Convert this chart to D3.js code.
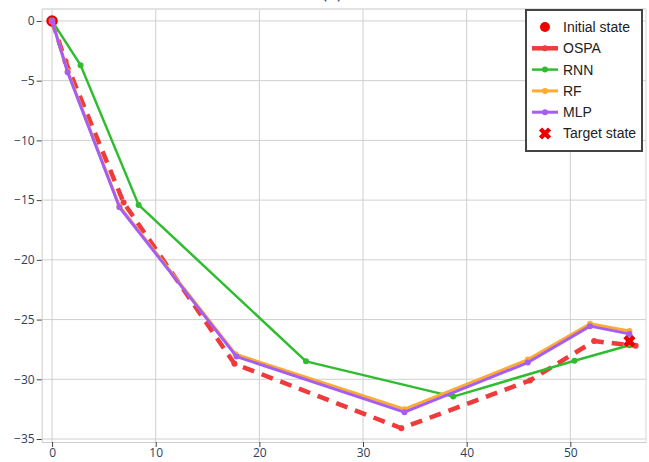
<!DOCTYPE html>
<html><head><meta charset="utf-8">
<script src="https://cdn.jsdelivr.net/npm/d3@7"></script>
<style>body{margin:0;background:#fff}svg{display:block}</style>
</head><body><div id="chart"></div>
<script>
const initialState = [{x: 0, y: 0}];
const targetState = [{x: 55.7, y: -26.8}];
const ospaX = [0, 1.3, 6.9, 17.6, 33.7, 46.1, 52.3, 56.3];
const ospaY = [0, -3.4, -15.2, -28.7, -34.1, -30.1, -26.8, -27.2];
const rnnX = [0, 2.75, 8.35, 24.5, 38.7, 50.4, 55.7];
const rnnY = [0, -3.7, -15.4, -28.5, -31.45, -28.45, -27.15];
const rfX = [0, 1.5, 6.5, 17.7, 34.0, 45.9, 51.9, 55.7];
const rfY = [0, -4.2, -15.5, -27.9, -32.5, -28.35, -25.35, -25.95];
const mlpX = [0, 1.5, 6.5, 17.8, 34.0, 45.9, 51.9, 55.7];
const mlpY = [0, -4.3, -15.6, -28.1, -32.75, -28.6, -25.55, -26.2];
const xTicks = [0, 10, 20, 30, 40, 50];
const yTicks = [0, -5, -10, -15, -20, -25, -30, -35];
const legendLabels = ["Initial state", "OSPA", "RNN", "RF", "MLP", "Target state"];

const W = 649, H = 462;
const L = 41.7, R = 646, T = 9, B = 442;
const svg = d3.select("#chart").append("svg").attr("width", W).attr("height", H);
const x = d3.scaleLinear().domain([-1, 57.3]).range([L, R]);
const y = d3.scaleLinear().domain([1, -35.25]).range([T, B]);

// title (cropped at the top, as in the reference)
svg.append("text").attr("x", 332).attr("y", -1).attr("text-anchor", "middle")
  .attr("font-family", "Open Sans, sans-serif").attr("font-size", 17).attr("fill", "#2a3f5f").text("(a)");

// grid
const g = svg.append("g");
g.selectAll(".vg").data(xTicks).join("line").attr("x1", d => x(d)).attr("x2", d => x(d))
  .attr("y1", T).attr("y2", B).attr("stroke", "#cfcfcf").attr("stroke-width", 1);
g.selectAll(".hg").data(yTicks).join("line").attr("y1", d => y(d)).attr("y2", d => y(d))
  .attr("x1", L).attr("x2", R).attr("stroke", "#cfcfcf").attr("stroke-width", 1);
svg.append("line").attr("x1", L).attr("x2", R).attr("y1", T).attr("y2", T).attr("stroke", "#e2e2e2").attr("stroke-width", 2);
svg.append("line").attr("x1", R).attr("x2", R).attr("y1", T).attr("y2", B).attr("stroke", "#d6d6d6").attr("stroke-width", 1);

// axes
const fmt = d => d < 0 ? "\u2212" + Math.abs(d) : String(d);
const xAxis = svg.append("g").attr("transform", `translate(0,${B})`)
  .call(d3.axisBottom(x).tickValues(xTicks).tickFormat(fmt).tickSize(5).tickSizeOuter(0));
const yAxis = svg.append("g").attr("transform", `translate(${L},0)`)
  .call(d3.axisLeft(y).tickValues(yTicks).tickFormat(fmt).tickSize(5).tickSizeOuter(0));
[xAxis, yAxis].forEach(a => {
  a.select(".domain").attr("stroke", "#cccccc").attr("stroke-width", 1);
  a.selectAll(".tick line").attr("stroke", "#444");
  a.selectAll("text").attr("font-family", "Open Sans, sans-serif").attr("font-size", 12).attr("fill", "#2a3f5f");
});
xAxis.selectAll("text").attr("y", 6).attr("dy", "0.71em");
yAxis.selectAll("text").attr("x", -7);

const zip = (xs, ys) => xs.map((v, i) => ({x: v, y: ys[i]}));
const line = d3.line().x(d => x(d.x)).y(d => y(d.y));

// initial state marker
svg.selectAll(".init").data(initialState).join("circle").attr("cx", d => x(d.x)).attr("cy", d => y(d.y))
  .attr("r", 5).attr("fill", "#ff1a1a").attr("stroke", "#dd0000").attr("stroke-width", 1.5);

const series = [
  {data: zip(ospaX, ospaY), color: "#ee2b2b", width: 4.5, dash: "12,8", r: 3, op: 0.92},
  {data: zip(rnnX, rnnY), color: "#2fbd2f", width: 2.5, dash: null, r: 3, op: 1},
  {data: zip(rfX, rfY), color: "#ffab30", width: 3, dash: null, r: 3, op: 1},
  {data: zip(mlpX, mlpY), color: "#a65ef2", width: 3, dash: null, r: 3, op: 1}
];
series.forEach(s => {
  const gg = svg.append("g").attr("opacity", s.op);
  gg.append("path").datum(s.data).attr("d", line).attr("fill", "none").attr("stroke", s.color)
    .attr("stroke-width", s.width).attr("stroke-dasharray", s.dash).attr("stroke-linejoin", "round");
  gg.selectAll("circle").data(s.data).join("circle").attr("cx", d => x(d.x)).attr("cy", d => y(d.y))
    .attr("r", s.r).attr("fill", s.color);
});

// target state
const cross = d3.symbol().type(d3.symbolX).size(55);
svg.selectAll(".tgt").data(targetState).join("path").attr("d", cross)
  .attr("transform", d => `translate(${x(d.x)},${y(d.y)})`)
  .attr("fill", "none").attr("stroke", "#ee0000").attr("stroke-width", 4.5);

// legend
const lg = svg.append("g");
lg.append("rect").attr("x", 526).attr("y", 10).attr("width", 116).attr("height", 141)
  .attr("fill", "#fff").attr("stroke", "#444").attr("stroke-width", 2);
const rowY = i => 27 + i * 21.3;
legendLabels.forEach((lab, i) => {
  const cy = rowY(i);
  if (i === 0) {
    lg.append("circle").attr("cx", 545).attr("cy", cy).attr("r", 5).attr("fill", "#ee0000");
  } else if (i === 5) {
    lg.append("path").attr("d", cross).attr("transform", `translate(545,${cy})`)
      .attr("fill", "none").attr("stroke", "#ee0000").attr("stroke-width", 4.5);
  } else {
    const s = series[i - 1];
    const sg = lg.append("g").attr("opacity", s.op);
    sg.append("line").attr("x1", 532).attr("x2", 558).attr("y1", cy).attr("y2", cy)
      .attr("stroke", s.color).attr("stroke-width", s.width);
    sg.append("circle").attr("cx", 545).attr("cy", cy).attr("r", 3).attr("fill", s.color);
  }
  lg.append("text").attr("x", 563).attr("y", cy).attr("dy", "0.35em")
    .attr("font-family", "Liberation Sans, Arial, sans-serif").attr("font-size", 14)
    .attr("fill", "#222").text(lab);
});
</script></body></html>
